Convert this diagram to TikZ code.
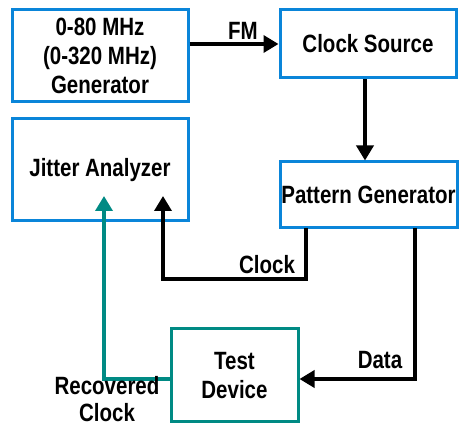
\documentclass[tikz,border=0pt]{standalone}
\usepackage{fontspec}
\setmainfont[FakeStretch=0.82]{Liberation Sans}
\usetikzlibrary{arrows.meta}
\definecolor{boxblue}{HTML}{0A85D9}
\definecolor{teal}{HTML}{008A84}
\begin{document}
\begin{tikzpicture}[x=1pt,y=-1pt,
  every node/.style={font=\bfseries\fontsize{25}{29}\selectfont, align=center, inner sep=0pt},
  box/.style={draw=boxblue, line width=3pt, fill=white},
  tbox/.style={draw=teal, line width=3pt, fill=white},
  conn/.style={line width=3.5pt, -{Triangle[length=15pt,width=17pt]}},
  tconn/.style={conn, draw=teal, -{Triangle[length=15pt,width=17pt,fill=teal]}}]
\useasboundingbox (0,0) rectangle (459,428);
\node[box, minimum width=176pt, minimum height=92pt] (gen) at (100,56) {0-80 MHz\\(0-320 MHz)\\Generator};
\node[box, minimum width=176pt, minimum height=68pt] (cs) at (368,44) {Clock Source};
\node[box, minimum width=176pt, minimum height=102pt] (ja) at (100,170) {Jitter Analyzer};
\node[box, minimum width=177pt, minimum height=66pt] (pg) at (368.5,195) {\makebox[150pt]{Pattern Generator}};
\node[tbox, minimum width=127pt, minimum height=93pt] (td) at (234.5,375.5) {Test\\Device};
\coordinate (clkA) at (306,228);
\coordinate (clkB) at (306,279);
\coordinate (clkC) at (163,279);
\coordinate (clkD) at (163,196);
\coordinate (datA) at (415,228);
\coordinate (datB) at (415,379);
\coordinate (recA) at (104,379);
\coordinate (recB) at (104,196);
\draw[conn] (gen.east |- cs.west) -- (cs.west);
\draw[conn] ([xshift=-3pt]cs.south) -- ([xshift=-3pt]cs.south |- pg.north);
\draw[conn] (clkA) -- (clkB) -- (clkC) -- (clkD);
\draw[conn] (datA) -- (datB) -- (td.east |- datB);
\draw[tconn] (td.west |- recA) -- (recA) -- (recB);
\node (fm) at (243,31) {FM};
\node (clk) at (267,265) {Clock};
\node (dat) at (380,360) {Data};
\node[font=\bfseries\fontsize{25}{27}\selectfont] (rec) at (107,399) {Recovered\\Clock};
\end{tikzpicture}
\end{document}
